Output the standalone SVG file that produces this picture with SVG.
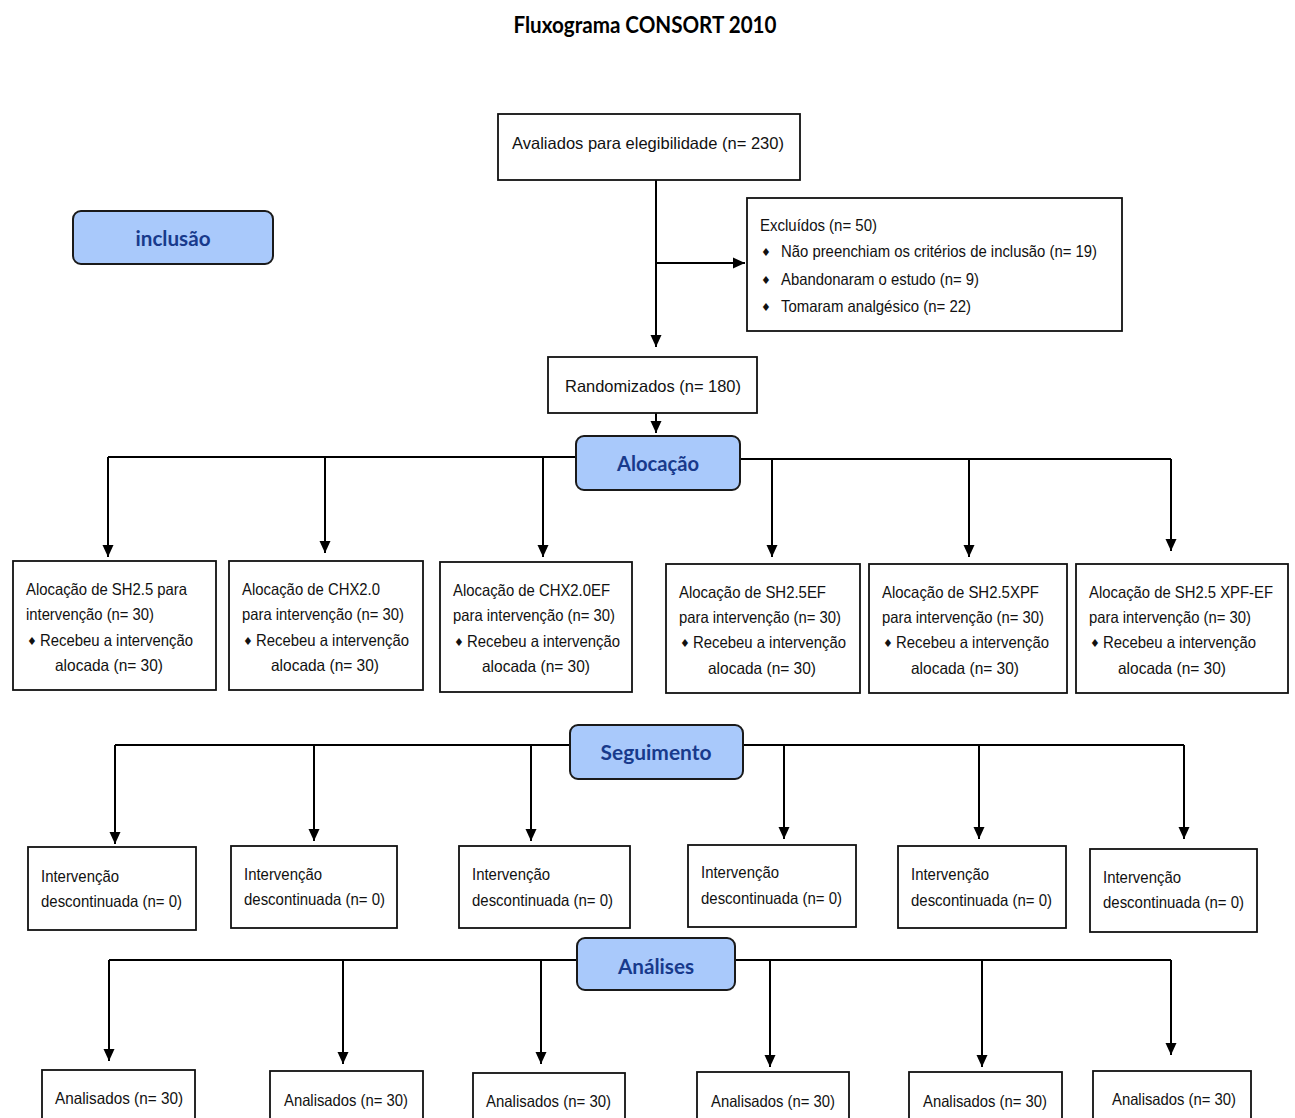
<svg xmlns="http://www.w3.org/2000/svg" width="1295" height="1118" viewBox="0 0 1295 1118">
<defs>
<marker id="arr" markerUnits="userSpaceOnUse" markerWidth="12" markerHeight="12" viewBox="0 0 12 12" refX="12" refY="6" orient="auto">
<path d="M0,0.5 L12,6 L0,11.5 z" fill="#000"/>
</marker>
<style>
.box{fill:#fff;stroke:#111;stroke-width:1.8}
.stage{fill:#a9c9fb;stroke:#1a1a1a;stroke-width:2}
.stt{font-family:Lato,"Open Sans","DejaVu Sans",sans-serif;font-weight:bold;font-size:21px;fill:#183a8c;text-anchor:middle}
.t{font-family:"Liberation Sans",Arial,sans-serif;font-size:16.5px;fill:#111}
.c{text-anchor:middle}
.b{font-family:"DejaVu Sans",sans-serif;font-size:11px;fill:#111}
.ln{fill:none;stroke:#000;stroke-width:2}
.ar{fill:none;stroke:#000;stroke-width:2;marker-end:url(#arr)}
.title{font-family:Lato,"Open Sans",sans-serif;font-weight:bold;font-size:22px;fill:#000;text-anchor:middle}
</style>
</defs>
<rect width="1295" height="1118" fill="#fff"/>
<text class="title" x="645" y="33" textLength="263" lengthAdjust="spacingAndGlyphs">Fluxograma CONSORT 2010</text>

<g id="connectors">
<path class="ar" d="M656,180 V347"/>
<path class="ar" d="M656,263 H745"/>
<path class="ar" d="M656,413 V433"/>
<path class="ln" d="M576,457 H108"/>
<path class="ln" d="M740,459 H1171"/>
<path class="ar" d="M108,457 V557"/>
<path class="ar" d="M325,457 V553"/>
<path class="ar" d="M543,457 V557"/>
<path class="ar" d="M772,459 V557"/>
<path class="ar" d="M969,459 V557"/>
<path class="ar" d="M1171,459 V551"/>
<path class="ln" d="M570,745 H115"/>
<path class="ln" d="M743,745 H1184"/>
<path class="ar" d="M115,745 V844"/>
<path class="ar" d="M314,745 V841"/>
<path class="ar" d="M531,745 V841"/>
<path class="ar" d="M784,745 V839"/>
<path class="ar" d="M979,745 V839"/>
<path class="ar" d="M1184,745 V839"/>
<path class="ln" d="M577,960 H109"/>
<path class="ln" d="M735,960 H1171"/>
<path class="ar" d="M109,960 V1061"/>
<path class="ar" d="M343,960 V1064"/>
<path class="ar" d="M541,960 V1064"/>
<path class="ar" d="M770,960 V1067"/>
<path class="ar" d="M982,960 V1067"/>
<path class="ar" d="M1171,960 V1055"/>
</g>

<g id="stage-inclusao"><rect class="stage" x="73" y="211" width="200" height="53" rx="8"/><text class="stt" x="173" y="246" textLength="75" lengthAdjust="spacingAndGlyphs">inclusão</text></g>
<g id="stage-alocacao"><rect class="stage" x="576" y="436" width="164" height="54" rx="8"/><text class="stt" x="658" y="471" textLength="82" lengthAdjust="spacingAndGlyphs">Alocação</text></g>
<g id="stage-seguimento"><rect class="stage" x="570" y="725" width="173" height="54" rx="8"/><text class="stt" x="656" y="760" textLength="111" lengthAdjust="spacingAndGlyphs">Seguimento</text></g>
<g id="stage-analises"><rect class="stage" x="577" y="938" width="158" height="52" rx="8"/><text class="stt" x="656" y="974" textLength="76" lengthAdjust="spacingAndGlyphs">Análises</text></g>

<g id="avaliados"><rect class="box" x="498" y="114" width="302" height="66"/><text class="t" x="512" y="149" textLength="272" lengthAdjust="spacingAndGlyphs">Avaliados para elegibilidade (n= 230)</text></g>
<g id="excluidos"><rect class="box" x="747" y="198" width="375" height="133"/>
<text class="t" x="760" y="231" textLength="117" lengthAdjust="spacingAndGlyphs">Excluídos (n= 50)</text>
<text class="b" x="761" y="256">♦</text><text class="t" x="781" y="257" textLength="316" lengthAdjust="spacingAndGlyphs">Não preenchiam os critérios de inclusão (n= 19)</text>
<text class="b" x="761" y="284">♦</text><text class="t" x="781" y="285" textLength="198" lengthAdjust="spacingAndGlyphs">Abandonaram o estudo (n= 9)</text>
<text class="b" x="761" y="311">♦</text><text class="t" x="781" y="312" textLength="190" lengthAdjust="spacingAndGlyphs">Tomaram analgésico (n= 22)</text>
</g>
<g id="randomizados"><rect class="box" x="548" y="357" width="209" height="56"/><text class="t" x="565" y="392" textLength="176" lengthAdjust="spacingAndGlyphs">Randomizados (n= 180)</text></g>

<g id="aloc1"><rect class="box" x="13" y="561" width="203" height="129"/>
<text class="t" x="26" y="595" textLength="161" lengthAdjust="spacingAndGlyphs">Alocação de SH2.5 para</text><text class="t" x="26" y="620" textLength="128" lengthAdjust="spacingAndGlyphs">intervenção (n= 30)</text>
<text class="b" x="27" y="645">♦</text><text class="t" x="40" y="646" textLength="153" lengthAdjust="spacingAndGlyphs">Recebeu a intervenção</text><text class="t" x="55" y="671" textLength="108" lengthAdjust="spacingAndGlyphs">alocada (n=  30)</text></g>
<g id="aloc2"><rect class="box" x="229" y="561" width="194" height="129"/>
<text class="t" x="242" y="595" textLength="138" lengthAdjust="spacingAndGlyphs">Alocação de CHX2.0</text><text class="t" x="242" y="620" textLength="162" lengthAdjust="spacingAndGlyphs">para intervenção (n= 30)</text>
<text class="b" x="243" y="645">♦</text><text class="t" x="256" y="646" textLength="153" lengthAdjust="spacingAndGlyphs">Recebeu a intervenção</text><text class="t" x="271" y="671" textLength="108" lengthAdjust="spacingAndGlyphs">alocada (n=  30)</text></g>
<g id="aloc3"><rect class="box" x="440" y="562" width="192" height="130"/>
<text class="t" x="453" y="596" textLength="157" lengthAdjust="spacingAndGlyphs">Alocação de CHX2.0EF</text><text class="t" x="453" y="621" textLength="162" lengthAdjust="spacingAndGlyphs">para intervenção (n= 30)</text>
<text class="b" x="454" y="646">♦</text><text class="t" x="467" y="647" textLength="153" lengthAdjust="spacingAndGlyphs">Recebeu a intervenção</text><text class="t" x="482" y="672" textLength="108" lengthAdjust="spacingAndGlyphs">alocada (n=  30)</text></g>
<g id="aloc4"><rect class="box" x="666" y="564" width="194" height="129"/>
<text class="t" x="679" y="598" textLength="147" lengthAdjust="spacingAndGlyphs">Alocação de SH2.5EF</text><text class="t" x="679" y="623" textLength="162" lengthAdjust="spacingAndGlyphs">para intervenção (n= 30)</text>
<text class="b" x="680" y="647">♦</text><text class="t" x="693" y="648" textLength="153" lengthAdjust="spacingAndGlyphs">Recebeu a intervenção</text><text class="t" x="708" y="674" textLength="108" lengthAdjust="spacingAndGlyphs">alocada (n=  30)</text></g>
<g id="aloc5"><rect class="box" x="869" y="564" width="198" height="129"/>
<text class="t" x="882" y="598" textLength="157" lengthAdjust="spacingAndGlyphs">Alocação de SH2.5XPF</text><text class="t" x="882" y="623" textLength="162" lengthAdjust="spacingAndGlyphs">para intervenção (n= 30)</text>
<text class="b" x="883" y="647">♦</text><text class="t" x="896" y="648" textLength="153" lengthAdjust="spacingAndGlyphs">Recebeu a intervenção</text><text class="t" x="911" y="674" textLength="108" lengthAdjust="spacingAndGlyphs">alocada (n=  30)</text></g>
<g id="aloc6"><rect class="box" x="1076" y="564" width="212" height="129"/>
<text class="t" x="1089" y="598" textLength="184" lengthAdjust="spacingAndGlyphs">Alocação de SH2.5 XPF-EF</text><text class="t" x="1089" y="623" textLength="162" lengthAdjust="spacingAndGlyphs">para intervenção (n= 30)</text>
<text class="b" x="1090" y="647">♦</text><text class="t" x="1103" y="648" textLength="153" lengthAdjust="spacingAndGlyphs">Recebeu a intervenção</text><text class="t" x="1118" y="674" textLength="108" lengthAdjust="spacingAndGlyphs">alocada (n=  30)</text></g>

<g id="seg1"><rect class="box" x="28" y="847" width="168" height="83"/><text class="t" x="41" y="882" textLength="78" lengthAdjust="spacingAndGlyphs">Intervenção</text><text class="t" x="41" y="907" textLength="141" lengthAdjust="spacingAndGlyphs">descontinuada (n= 0)</text></g>
<g id="seg2"><rect class="box" x="231" y="846" width="166" height="82"/><text class="t" x="244" y="880" textLength="78" lengthAdjust="spacingAndGlyphs">Intervenção</text><text class="t" x="244" y="905" textLength="141" lengthAdjust="spacingAndGlyphs">descontinuada (n= 0)</text></g>
<g id="seg3"><rect class="box" x="459" y="846" width="171" height="82"/><text class="t" x="472" y="880" textLength="78" lengthAdjust="spacingAndGlyphs">Intervenção</text><text class="t" x="472" y="906" textLength="141" lengthAdjust="spacingAndGlyphs">descontinuada (n= 0)</text></g>
<g id="seg4"><rect class="box" x="688" y="845" width="168" height="82"/><text class="t" x="701" y="878" textLength="78" lengthAdjust="spacingAndGlyphs">Intervenção</text><text class="t" x="701" y="904" textLength="141" lengthAdjust="spacingAndGlyphs">descontinuada (n= 0)</text></g>
<g id="seg5"><rect class="box" x="898" y="846" width="168" height="82"/><text class="t" x="911" y="880" textLength="78" lengthAdjust="spacingAndGlyphs">Intervenção</text><text class="t" x="911" y="906" textLength="141" lengthAdjust="spacingAndGlyphs">descontinuada (n= 0)</text></g>
<g id="seg6"><rect class="box" x="1090" y="849" width="167" height="83"/><text class="t" x="1103" y="883" textLength="78" lengthAdjust="spacingAndGlyphs">Intervenção</text><text class="t" x="1103" y="908" textLength="141" lengthAdjust="spacingAndGlyphs">descontinuada (n= 0)</text></g>

<g id="an1"><rect class="box" x="42" y="1070" width="153" height="70"/><text class="t" x="55" y="1104" textLength="128" lengthAdjust="spacingAndGlyphs">Analisados (n= 30)</text></g>
<g id="an2"><rect class="box" x="270" y="1071" width="153" height="70"/><text class="t" x="284" y="1106" textLength="124" lengthAdjust="spacingAndGlyphs">Analisados (n= 30)</text></g>
<g id="an3"><rect class="box" x="473" y="1073" width="152" height="70"/><text class="t" x="486" y="1107" textLength="125" lengthAdjust="spacingAndGlyphs">Analisados (n= 30)</text></g>
<g id="an4"><rect class="box" x="697" y="1072" width="152" height="70"/><text class="t" x="711" y="1107" textLength="124" lengthAdjust="spacingAndGlyphs">Analisados (n= 30)</text></g>
<g id="an5"><rect class="box" x="909" y="1072" width="153" height="70"/><text class="t" x="923" y="1107" textLength="124" lengthAdjust="spacingAndGlyphs">Analisados (n= 30)</text></g>
<g id="an6"><rect class="box" x="1093" y="1071" width="158" height="70"/><text class="t" x="1112" y="1105" textLength="124" lengthAdjust="spacingAndGlyphs">Analisados (n= 30)</text></g>
</svg>
